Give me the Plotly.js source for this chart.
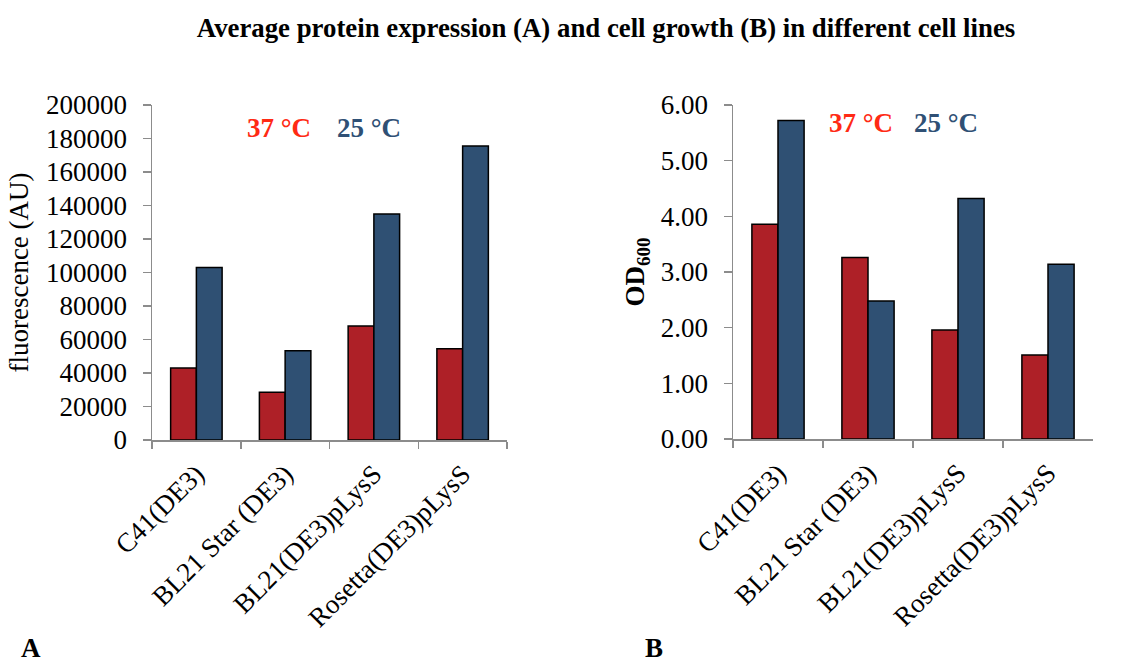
<!DOCTYPE html>
<html>
<head>
<meta charset="utf-8">
<script src="https://cdn.plot.ly/plotly-3.0.1.min.js"></script>
<style>html,body{margin:0;padding:0;background:#fff;}#chart{width:1127px;height:665px;}</style>
</head>
<body>
<div id="chart"></div>
<script>
const cellLines = ["C41(DE3)", "BL21 Star (DE3)", "BL21(DE3)pLysS", "Rosetta(DE3)pLysS"];
const fluor37 = [43000, 28500, 68000, 54500];
const fluor25 = [103000, 53300, 135000, 175500];
const od37 = [3.86, 3.26, 1.96, 1.51];
const od25 = [5.72, 2.48, 4.32, 3.14];
const seriesNames = ["37 °C", "25 °C"];

const redBar = "#AE2027";
const blueBar = "#2F5073";
const redText = "#FF2A14";
const blueText = "#2F5075";
const serif = "Liberation Serif";

const W = 1127, H = 665;
const px = v => v / W;
const py = v => 1 - v / H;

function bar(x, y, name, color, xa, ya) {
  return {type: "bar", x: x, y: y, name: name, xaxis: xa, yaxis: ya,
    marker: {color: color, line: {color: "#000", width: 1.5}}, showlegend: false,
    hoverinfo: "x+y"};
}

const data = [
  bar(cellLines, fluor37, seriesNames[0], redBar, "x", "y"),
  bar(cellLines, fluor25, seriesNames[1], blueBar, "x", "y"),
  bar(cellLines, od37, seriesNames[0], redBar, "x2", "y2"),
  bar(cellLines, od25, seriesNames[1], blueBar, "x2", "y2")
];

const xCommon = {type: "category", showline: true, linecolor: "#8c8c8c", linewidth: 1.5,
  ticks: "outside", tickson: "boundaries", ticklen: 7, tickcolor: "#8c8c8c", tickwidth: 1.5,
  tickangle: -45, tickfont: {family: serif, size: 27, color: "#000"}, showgrid: false,
  range: [-0.5, 3.5], automargin: false, ticklabelstandoff: 6};
const yCommon = {showline: true, linecolor: "#8c8c8c", linewidth: 1.5, ticks: "outside",
  ticklen: 8, tickcolor: "#8c8c8c", tickwidth: 1.5, showgrid: false, zeroline: false,
  tickfont: {family: serif, size: 27, color: "#000"}, automargin: false, ticklabelstandoff: 10};

function ann(text, x, y, color, size) {
  return {text: "<b>" + text + "</b>", x: px(x), y: py(y), xref: "paper", yref: "paper",
    xanchor: "center", yanchor: "middle", showarrow: false,
    font: {family: serif, size: size, color: color}};
}

const layout = {
  width: W, height: H,
  margin: {l: 0, r: 0, t: 0, b: 0},
  font: {family: serif, color: "#000"},
  paper_bgcolor: "#fff", plot_bgcolor: "rgba(0,0,0,0)",
  bargap: 0.42, bargroupgap: 0, barmode: "group",
  title: {text: "<b>Average protein expression (A) and cell growth (B) in different cell lines</b>",
    font: {family: serif, size: 26.8, color: "#000"}, x: px(606), xanchor: "center",
    y: py(28), yanchor: "middle", xref: "paper", yref: "paper"},
  xaxis: Object.assign({}, xCommon, {domain: [px(152), px(507)], anchor: "y"}),
  yaxis: Object.assign({}, yCommon, {domain: [py(440), py(105)], range: [0, 200000], dtick: 20000,
    tickformat: "d", anchor: "x",
    title: {text: "fluorescence (AU)", font: {family: serif, size: 27, color: "#000"}, standoff: 9}}),
  xaxis2: Object.assign({}, xCommon, {domain: [px(733), px(1093)], anchor: "y2"}),
  yaxis2: Object.assign({}, yCommon, {domain: [py(439), py(105)], range: [0, 6], dtick: 1,
    tickformat: ".2f", anchor: "x2",
    title: {text: "<b>OD<sub>600</sub></b>", font: {family: serif, size: 27, color: "#000"}, standoff: 8}}),
  annotations: [
    ann(seriesNames[0], 279, 128, redText, 27),
    ann(seriesNames[1], 369, 128, blueText, 27),
    ann(seriesNames[0], 861, 123, redText, 27),
    ann(seriesNames[1], 946, 123, blueText, 27),
    ann("A", 31, 648, "#000", 27),
    ann("B", 654, 648, "#000", 27)
  ]
};

Plotly.newPlot("chart", data, layout, {staticPlot: true, displayModeBar: false});
</script>
</body>
</html>
